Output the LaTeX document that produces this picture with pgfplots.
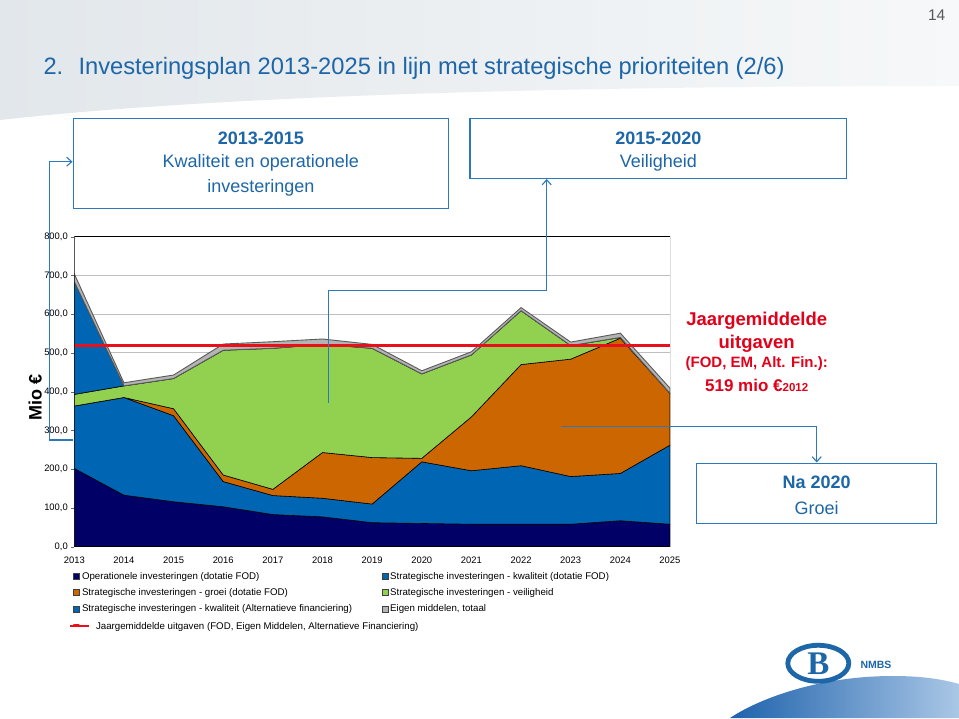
\documentclass[border=0pt]{standalone}
\usepackage{fontspec}
\setmainfont{Liberation Sans}
\newfontfamily\logoserif{Liberation Serif}
\usepackage{pgfplots}
\pgfplotsset{compat=1.18}
\usetikzlibrary{arrows.meta}

\definecolor{navyop}{HTML}{000066}
\definecolor{bluekw}{HTML}{0066B3}
\definecolor{orgroei}{HTML}{CC6600}
\definecolor{grveil}{HTML}{92D050}
\definecolor{grayem}{HTML}{B4B4B4}
\definecolor{slideblue}{HTML}{1D66A8}
\definecolor{boxblue}{HTML}{2B78BA}
\definecolor{redtxt}{HTML}{E2001A}
\definecolor{redline}{HTML}{E8101A}

% Mio euro per jaar, per laag (van onder naar boven)
\pgfplotstableread{
year op  kwfod groei veil kwalt em
2013 202 161   0     30   291   20
2014 133 252   0     30   0     8
2015 116 222   18    78   0     9
2016 103 65    17    322  0     16
2017 83  49    16    364  0     17
2018 77  48    118   279  0     14
2019 62  48    120   282  0     10
2020 60  159   9     218  0     8
2021 58  138   139   160  0     8
2022 58  151   261   139  0     8
2023 58  123   303   35   0     9
2024 67  122   349   2    0     11
2025 58  204   134   0    0     13
}\invdata

\pgfplotsset{
  sqlegend/.style={legend image code/.code={
    \draw[##1, line width=0.4pt, draw=black!75] (0pt,-3pt) rectangle (6pt,3pt);}},
  redlegend/.style={legend image code/.code={
    \path (0pt,0pt) rectangle (6pt,0pt);
    \draw[redline, line width=1.8pt, overlay] (-3.3pt,0pt) -- (15.7pt,0pt);}},
  layer/.style={stack plots=y, sqlegend, draw=black, line width=0.6pt},
}

\begin{document}
\begin{tikzpicture}
% achtergrond van de dia (pixelcoordinaten, y naar beneden)
\begin{scope}[x=1pt, y=-1pt, shift={(0pt,718pt)}]
  \fill[white] (0,0) rectangle (959,718);
  \shade[left color={rgb,255:red,226;green,231;blue,235}, right color={rgb,255:red,246;green,248;blue,249}]
    (0,0) -- (959,0) -- (959,86) .. controls (650,86) and (250,92) .. (0,120) -- cycle;
  \shade[left color={rgb,255:red,30;green,98;blue,172}, right color={rgb,255:red,170;green,199;blue,230}]
    (730,718) .. controls (760,698) and (820,676) .. (893,676) .. controls (925,676) and (945,680) .. (959,684) -- (959,718) -- cycle;
  \node[anchor=base west, text=slideblue, font=\fontsize{23.7}{26}\selectfont] at (40,75) {2.};
  \node[anchor=base west, text=slideblue, font=\fontsize{23.7}{26}\selectfont, inner sep=0pt] at (78.3,75)
    {Investeringsplan 2013-2025 in lijn met strategische prioriteiten (2/6)};
  \node[text=black!65, font=\fontsize{15.5}{17}\selectfont] at (936.7,15) {14};
\end{scope}

\begin{axis}[
  at={(74.3pt,171.3pt)}, anchor=south west,
  scale only axis, width=595.7pt, height=310pt,
  xmin=2013, xmax=2025, ymin=0, ymax=800,
  xtick={2013,...,2025}, ytick={0,100,...,800},
  ymajorgrids, grid style={draw=black!25, line width=0.9pt},
  axis line style={draw=none},
  tick align=outside, major tick length=3pt, ytick pos=left,
  ytick style={black!60}, xtick style={draw=none},
  /pgf/number format/assume math mode=true,
  yticklabel style={/pgf/number format/.cd, fixed, fixed zerofill, precision=1, use comma},
  xticklabel style={/pgf/number format/1000 sep={}},
  xticklabel shift=4pt,
  ticklabel style={font=\fontsize{9.4}{10}\selectfont},
  ylabel={Mio €},
  ylabel style={font=\fontsize{18}{20}\selectfont\bfseries, at={(axis description cs:-0.0655,0.48)}, anchor=center},
  legend columns=2,
  legend cell align=left,
  legend style={at={(axis description cs:-0.004,-0.078)}, anchor=north west, draw=none, fill=none,
    font=\fontsize{9.7}{11}\selectfont, row sep=4.9pt, inner sep=0pt,
    nodes={inner sep=1.3pt},
    /tikz/every even column/.append style={column sep=29pt}},
]
\addplot[layer, fill=navyop] table[x=year, y=op] {\invdata} \closedcycle;
\addlegendentry{Operationele investeringen (dotatie FOD)}
\addplot[layer, fill=bluekw] table[x=year, y=kwfod] {\invdata} \closedcycle;
\addlegendentry{Strategische investeringen - kwaliteit (dotatie FOD)}
\addplot[layer, fill=orgroei] table[x=year, y=groei] {\invdata} \closedcycle;
\addlegendentry{Strategische investeringen - groei (dotatie FOD)}
\addplot[layer, fill=grveil] table[x=year, y=veil] {\invdata} \closedcycle;
\addlegendentry{Strategische investeringen - veiligheid}
\addplot[layer, fill=bluekw] table[x=year, y=kwalt] {\invdata} \closedcycle;
\addlegendentry{Strategische investeringen - kwaliteit (Alternatieve financiering)}
\addplot[layer, fill=grayem, draw=black!65, line width=0.9pt] table[x=year, y=em] {\invdata} \closedcycle;
\addlegendentry{Eigen middelen, totaal}
\addplot[stack plots=false, draw=redline, line width=2.6pt, mark=none, redlegend]
  coordinates {(2013,519) (2025,519)};
\addlegendentry{\makebox[0pt][l]{\rule{0pt}{9pt}\hspace{14pt}Jaargemiddelde uitgaven (FOD, Eigen Middelen, Alternatieve Financiering)}}
\draw[black, line width=1pt] (rel axis cs:0,0) rectangle (rel axis cs:1,1);
\end{axis}

% kaders, pijlen en teksten
\begin{scope}[x=1pt, y=-1pt, shift={(0pt,718pt)}]
  \draw[boxblue, line width=1.2pt, fill=white] (73.3,118.3) rectangle (448.3,208.3);
  \node[text=slideblue, font=\fontsize{18}{20}\selectfont\bfseries] at (260.8,138.3) {2013-2015};
  \node[text=slideblue, font=\fontsize{18}{20}\selectfont] at (260.8,163.3) {Kwaliteit en operationele};
  \node[text=slideblue, font=\fontsize{18}{20}\selectfont] at (260.8,188.3) {investeringen};

  \draw[boxblue, line width=1.2pt, fill=white] (470,118.3) rectangle (846.7,178.3);
  \node[text=slideblue, font=\fontsize{18}{20}\selectfont\bfseries] at (658.3,138.3) {2015-2020};
  \node[text=slideblue, font=\fontsize{18}{20}\selectfont] at (658.3,163.3) {Veiligheid};

  \draw[boxblue, line width=1.2pt, fill=white] (696.7,463.3) rectangle (936.7,523.3);
  \node[text=slideblue, font=\fontsize{18}{20}\selectfont\bfseries] at (816.7,482.7) {Na 2020};
  \node[text=slideblue, font=\fontsize{18}{20}\selectfont] at (816.7,508) {Groei};

  \draw[boxblue, line width=1.1pt, -{Straight Barb[length=5pt,width=9pt]}]
    (73.3,440) -- (49.3,440) -- (49.3,161.7) -- (72.5,161.7);
  \draw[boxblue, line width=1.1pt, -{Straight Barb[length=5pt,width=9pt]}]
    (328.3,403) -- (328.3,290.7) -- (546.7,290.7) -- (546.7,179);
  \draw[boxblue, line width=1.1pt, -{Straight Barb[length=5pt,width=9pt]}]
    (561,426.5) -- (816.7,426.5) -- (816.7,462.5);

  \node[text=redtxt, font=\fontsize{18.5}{20}\selectfont\bfseries] at (756.7,320.7) {Jaargemiddelde};
  \node[text=redtxt, font=\fontsize{18.5}{20}\selectfont\bfseries] at (756.7,343.3) {uitgaven};
  \node[text=redtxt, font=\fontsize{15}{17}\selectfont\bfseries] at (756.7,364) {(FOD, EM, Alt. Fin.):};
  \node[text=redtxt, font=\fontsize{17}{18}\selectfont\bfseries] at (756.7,385)
    {519 mio €{\fontsize{11.5}{13}\selectfont 2012}};

  % logo
  \draw[slideblue, line width=4.8pt, fill=white] (818.3,663.3) ellipse [x radius=30.5pt, y radius=18pt];
  \node[text=slideblue, font=\logoserif\fontsize{33}{34}\selectfont\bfseries] at (818.3,664) {B};
  \node[text=slideblue, font=\fontsize{10.5}{12}\selectfont\bfseries] at (876,665) {NMBS};
\end{scope}
\pgfresetboundingbox
\path (0pt,0pt) rectangle (959pt,718pt);
\end{tikzpicture}
\end{document}
